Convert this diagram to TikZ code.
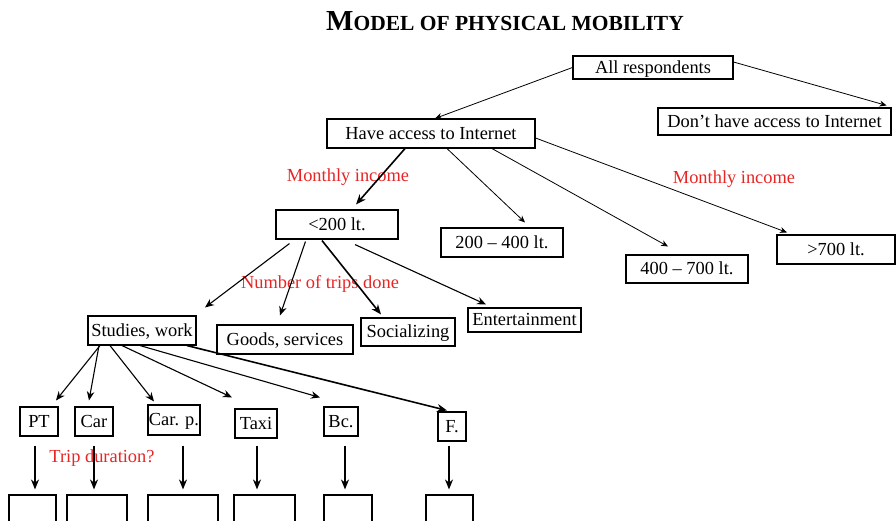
\documentclass[tikz,border=0pt]{standalone}
\usepackage{fontspec}
\setmainfont{Liberation Serif}
\usetikzlibrary{arrows.meta}
\definecolor{labelred}{RGB}{232,36,36}
\begin{document}
\begin{tikzpicture}[x=1pt,y=1pt,
  box/.style={draw, line width=1.1pt, inner sep=0pt, text height=13pt, text depth=1.5pt,
    font=\fontsize{18.4}{20}\selectfont},
  lbl/.style={text=labelred, font=\fontsize{18.4}{20}\selectfont},
  arr/.style={line width=1.1pt, -{Stealth[length=9pt,width=7.5pt]}},
  thin arr/.style={line width=0.8pt, -{Stealth[length=7pt,width=6pt]}},
  bold arr/.style={line width=1.6pt, -{Stealth[length=10pt,width=8pt]}}]
\useasboundingbox (0,0) rectangle (896,-520);
\clip (0,0) rectangle (896,-520);

% title
\node (title) at (505,-21) {\bfseries\fontsize{29}{32}\selectfont M\fontsize{21.5}{24}\selectfont ODEL OF PHYSICAL MOBILITY};

% upper levels
\node[box, minimum width=160, minimum height=23] (all) at (653,-67.5) {All respondents};
\node[box, minimum width=233, minimum height=27] (dont) at (774.5,-121.5) {Don’t have access to Internet};
\node[box, minimum width=208, minimum height=29] (have) at (431,-133.5) {Have access to Internet};
\node[box, minimum width=122, minimum height=29] (lta) at (337,-224.5) {<200 lt.};
\node[box, minimum width=122, minimum height=29] (ltb) at (502,-242.5) {200 – 400 lt.};
\node[box, minimum width=122, minimum height=28] (ltc) at (687,-269) {400 – 700 lt.};
\node[box, minimum width=118, minimum height=29] (ltd) at (836,-249.5) {>700 lt.};

% trip purposes
\node[box, minimum width=108, minimum height=29] (studies) at (142,-330.5) {Studies, work};
\node[box, minimum width=136, minimum height=29] (goods) at (285,-339.5) {Goods, services};
\node[box, minimum width=94, minimum height=28] (social) at (408,-332) {Socializing};
\node[box, minimum width=113, minimum height=24] (ent) at (524.5,-320) {Entertainment};

% transport modes
\node[box, minimum width=38, minimum height=29] (pt) at (39,-421.5) {PT};
\node[box, minimum width=38, minimum height=29] (car) at (94,-421.5) {Car};
\node[box, minimum width=52, minimum height=30] (carp) at (174,-420) {Car. p.};
\node[box, minimum width=42, minimum height=29] (taxi) at (256,-423.5) {Taxi};
\node[box, minimum width=34, minimum height=29] (bc) at (341,-421.5) {Bc.};
\node[box, minimum width=28, minimum height=29] (f) at (452,-426.5) {F.};

% empty result boxes
\node[box, minimum width=47, minimum height=40] (ba) at (32.5,-515) {};
\node[box, minimum width=60, minimum height=40] (bb) at (97,-515) {};
\node[box, minimum width=70, minimum height=40] (bcx) at (183,-515) {};
\node[box, minimum width=61, minimum height=40] (bd) at (264.5,-515) {};
\node[box, minimum width=48, minimum height=40] (be) at (348,-515) {};
\node[box, minimum width=47, minimum height=40] (bf) at (449.5,-515) {};

% red labels
\node[lbl] (inc1) at (348,-177) {Monthly income};
\node[lbl] (inc2) at (734,-179) {Monthly income};
\node[lbl] (trips) at (320,-284) {Number of trips done};
\node[lbl] (dur) at (102,-458) {Trip duration?};

% connectors
\draw[thin arr] (all.west) -- ([xshift=4]have.north);
\draw[thin arr] ([yshift=5.5]all.east) -- ([xshift=-5,yshift=2]dont.north east);
\draw[bold arr] ([xshift=-26]have.south) -- ([xshift=19,yshift=5]lta.north);
\draw[thin arr] ([xshift=16]have.south) -- ([xshift=23,yshift=5]ltb.north);
\draw[thin arr] ([xshift=61]have.south) -- ([xshift=-19,yshift=8]ltc.north);
\draw[thin arr] ([yshift=-4.5]have.east) -- ([xshift=-49,yshift=2]ltd.north);

\draw[arr] ([xshift=14,yshift=-4]lta.south west) -- ([xshift=63,yshift=8]studies.north);
\draw[arr] ([xshift=30,yshift=-2]lta.south west) -- ([xshift=-5,yshift=9]goods.north);
\draw[bold arr] ([xshift=-15,yshift=-1]lta.south) -- ([xshift=-27,yshift=3]social.north);
\draw[arr] ([xshift=18,yshift=-5]lta.south) -- ([xshift=-38.5,yshift=3]ent.north);

\draw[arr] ([xshift=-42]studies.south) -- ([xshift=17,yshift=6]pt.north);
\draw[arr] ([xshift=-43]studies.south) -- ([xshift=-5,yshift=6]car.north);
\draw[arr] ([xshift=-32]studies.south) -- ([xshift=-20,yshift=3]carp.north);
\draw[arr] ([xshift=-20]studies.south) -- ([xshift=-24,yshift=11]taxi.north);
\draw[arr] ([xshift=-2]studies.south) -- ([xshift=-21,yshift=9]bc.north);
\draw[bold arr] ([xshift=45]studies.south) -- ([xshift=-5,yshift=1]f.north);

\draw[bold arr] ([xshift=-4,yshift=-9]pt.south) -- ([xshift=2.5,yshift=5]ba.north);
\draw[bold arr] ([xshift=0,yshift=-9]car.south) -- ([xshift=-3,yshift=5]bb.north);
\draw[bold arr] ([xshift=9,yshift=-10]carp.south) -- ([xshift=0,yshift=5]bcx.north);
\draw[bold arr] ([xshift=1,yshift=-7]taxi.south) -- ([xshift=-7.5,yshift=5]bd.north);
\draw[bold arr] ([xshift=4,yshift=-9]bc.south) -- ([xshift=-3,yshift=5]be.north);
\draw[bold arr] ([xshift=-3,yshift=-4]f.south) -- ([xshift=-0.5,yshift=5]bf.north);
\end{tikzpicture}
\end{document}
